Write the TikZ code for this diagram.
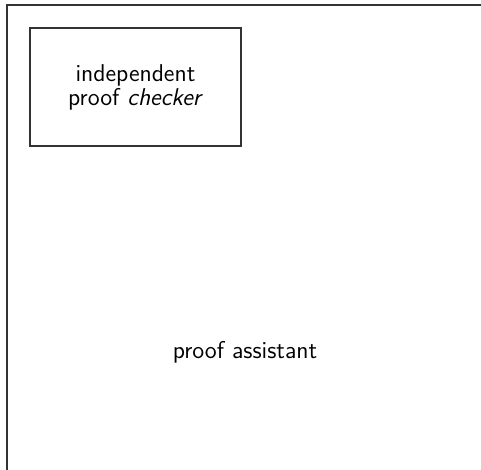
\documentclass[tikz,border=0pt]{standalone}
\usepackage{tikz}
\usetikzlibrary{positioning}
\renewcommand{\familydefault}{\sfdefault}
\tikzset{
	layers/.style={x=0.5bp,y=-0.5bp,line width=0.6pt,font=\fontsize{12.2}{12}\selectfont},
	system/.style={rectangle,draw=black!80,minimum width=240bp,minimum height=347bp,inner sep=0pt},
	component/.style={rectangle,draw=black!80,align=center,minimum width=105.5bp,minimum height=59bp,inner sep=0pt}
}

\begin{document}
\begin{tikzpicture}[layers]
	\useasboundingbox (0,0) rectangle (481,470);
	\clip (0,0) rectangle (481,470);
	
	\node[system] (pa) at (247,352) {};
	\node (palabel) at (245,352) {proof assistant};
	\node[component] (pc) at (135.5,87) {independent\\proof \textit{checker}};
	
\end{tikzpicture}
\end{document}
